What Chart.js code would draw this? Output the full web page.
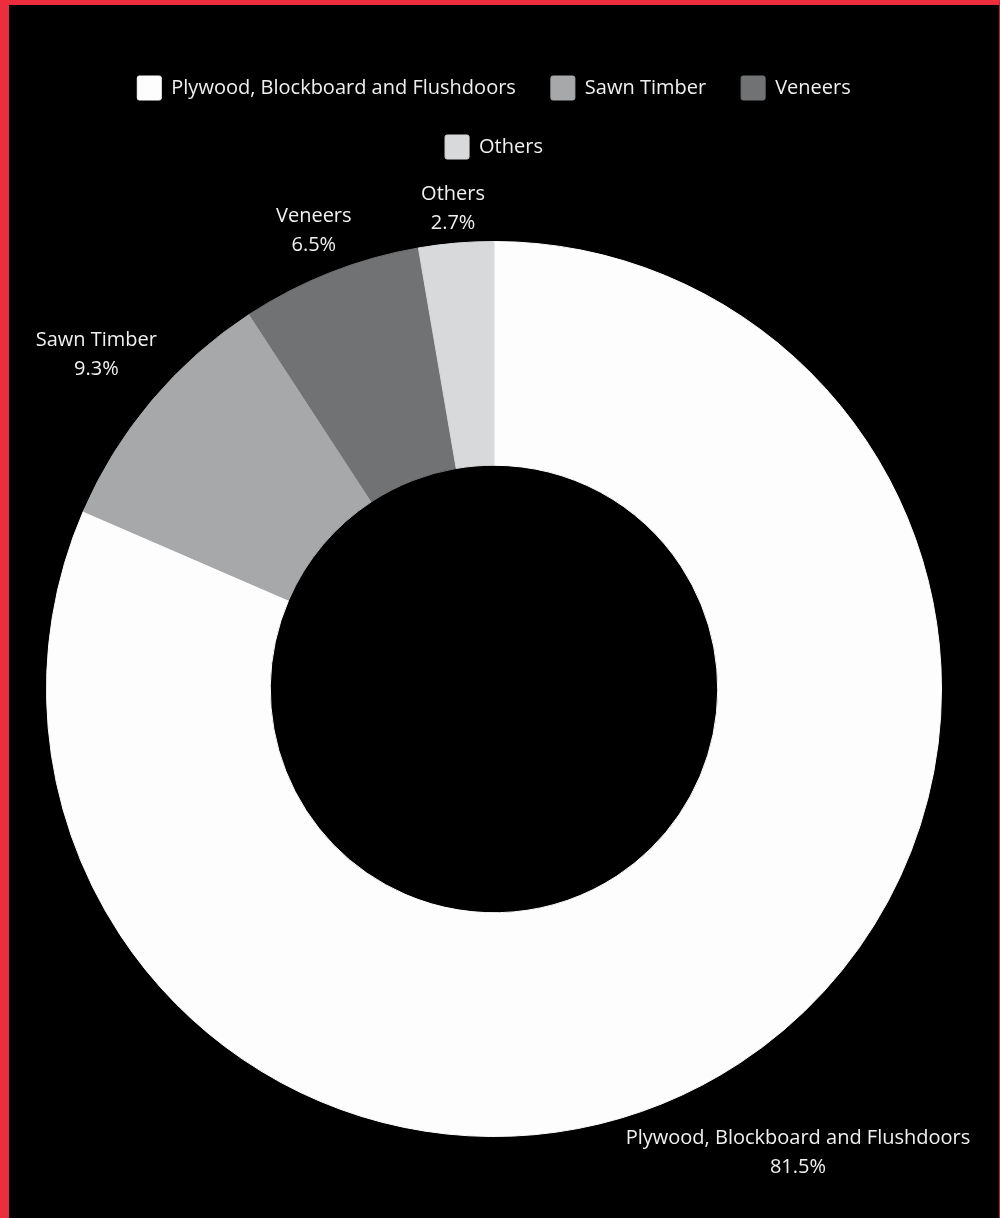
<!DOCTYPE html>
<html>
<head>
<meta charset="utf-8">
<script src="https://cdn.jsdelivr.net/npm/chart.js@4"></script>
<style>
  body { margin: 0; background: #000; }
  #frame {
    width: 1000px; height: 1218px; box-sizing: border-box; background: #000;
    border-left: 9px solid #ec2d3e; border-top: 5px solid #ec2d3e; border-right: 1px solid #b3202e;
  }
  #box { position: relative; width: 990px; height: 1213px; }
</style>
</head>
<body>
<div id="frame"><div id="box"><canvas id="myChart"></canvas></div></div>
<script>
const categories = ['Plywood, Blockboard and Flushdoors', 'Sawn Timber', 'Veneers', 'Others'];
const shares = [81.5, 9.3, 6.5, 2.7];
const sliceColors = ['#fdfdfd', '#a7a8aa', '#717274', '#d8d9db'];

const textColor = '#f0f0f0';
const fontFamily = '"Open Sans", "Noto Sans", sans-serif';
const fontSize = 20;

// legend: wrap after 3 items and leave room before the ring
const legendSpace = {
  id: 'legendSpace',
  beforeInit(chart) {
    const fit = chart.legend.fit;
    chart.legend.fit = function () {
      this.maxWidth = Math.min(this.maxWidth, 880);
      fit.call(this);
      this.height += 72;
    };
  }
};

// name + percent outside each slice
const outsideLabels = {
  id: 'outsideLabels',
  afterDatasetsDraw(chart) {
    const ctx = chart.ctx;
    const meta = chart.getDatasetMeta(0);
    const gap = 13, lineGap = 29, capH = 14;
    ctx.save();
    ctx.font = fontSize + 'px ' + fontFamily;
    ctx.fillStyle = textColor;
    ctx.textAlign = 'center';
    ctx.textBaseline = 'alphabetic';
    meta.data.forEach((arc, i) => {
      const p = arc.getProps(['x', 'y', 'startAngle', 'endAngle', 'outerRadius'], true);
      const mid = (p.startAngle + p.endAngle) / 2;
      const dx = Math.cos(mid), dy = Math.sin(mid);
      const lines = [categories[i], shares[i].toFixed(1) + '%'];
      const hw = Math.max(...lines.map(s => ctx.measureText(s).width)) / 2;
      const hh = (lineGap + capH) / 2;
      // push the text block out until its nearest corner is gap px from the ring
      let lo = p.outerRadius, hi = p.outerRadius + 400;
      for (let k = 0; k < 40; k++) {
        const t = (lo + hi) / 2;
        const ex = Math.max(0, Math.abs(dx * t) - hw);
        const ey = Math.max(0, Math.abs(dy * t) - hh);
        if (Math.hypot(ex, ey) < p.outerRadius + gap) lo = t; else hi = t;
      }
      const cx = p.x + dx * lo, cy = p.y + dy * lo;
      ctx.fillText(lines[0], cx, cy - hh + capH);
      ctx.fillText(lines[1], cx, cy - hh + capH + lineGap);
    });
    ctx.restore();
  }
};

new Chart(document.getElementById('myChart'), {
  type: 'doughnut',
  data: {
    labels: categories,
    datasets: [{
      data: shares,
      backgroundColor: sliceColors,
      borderColor: sliceColors,
      borderWidth: 1,
      hoverOffset: 0
    }]
  },
  options: {
    responsive: true,
    maintainAspectRatio: false,
    animation: false,
    cutout: '50%',
    layout: { padding: { top: 36, bottom: 81, left: 0, right: 20 } },
    plugins: {
      legend: {
        position: 'top',
        labels: {
          color: textColor,
          font: { family: fontFamily, size: fontSize },
          boxWidth: 24,
          boxHeight: 24,
          padding: 35,
          useBorderRadius: true,
          borderRadius: 2
        }
      },
      tooltip: { enabled: false }
    }
  },
  plugins: [legendSpace, outsideLabels]
});
</script>
</body>
</html>
